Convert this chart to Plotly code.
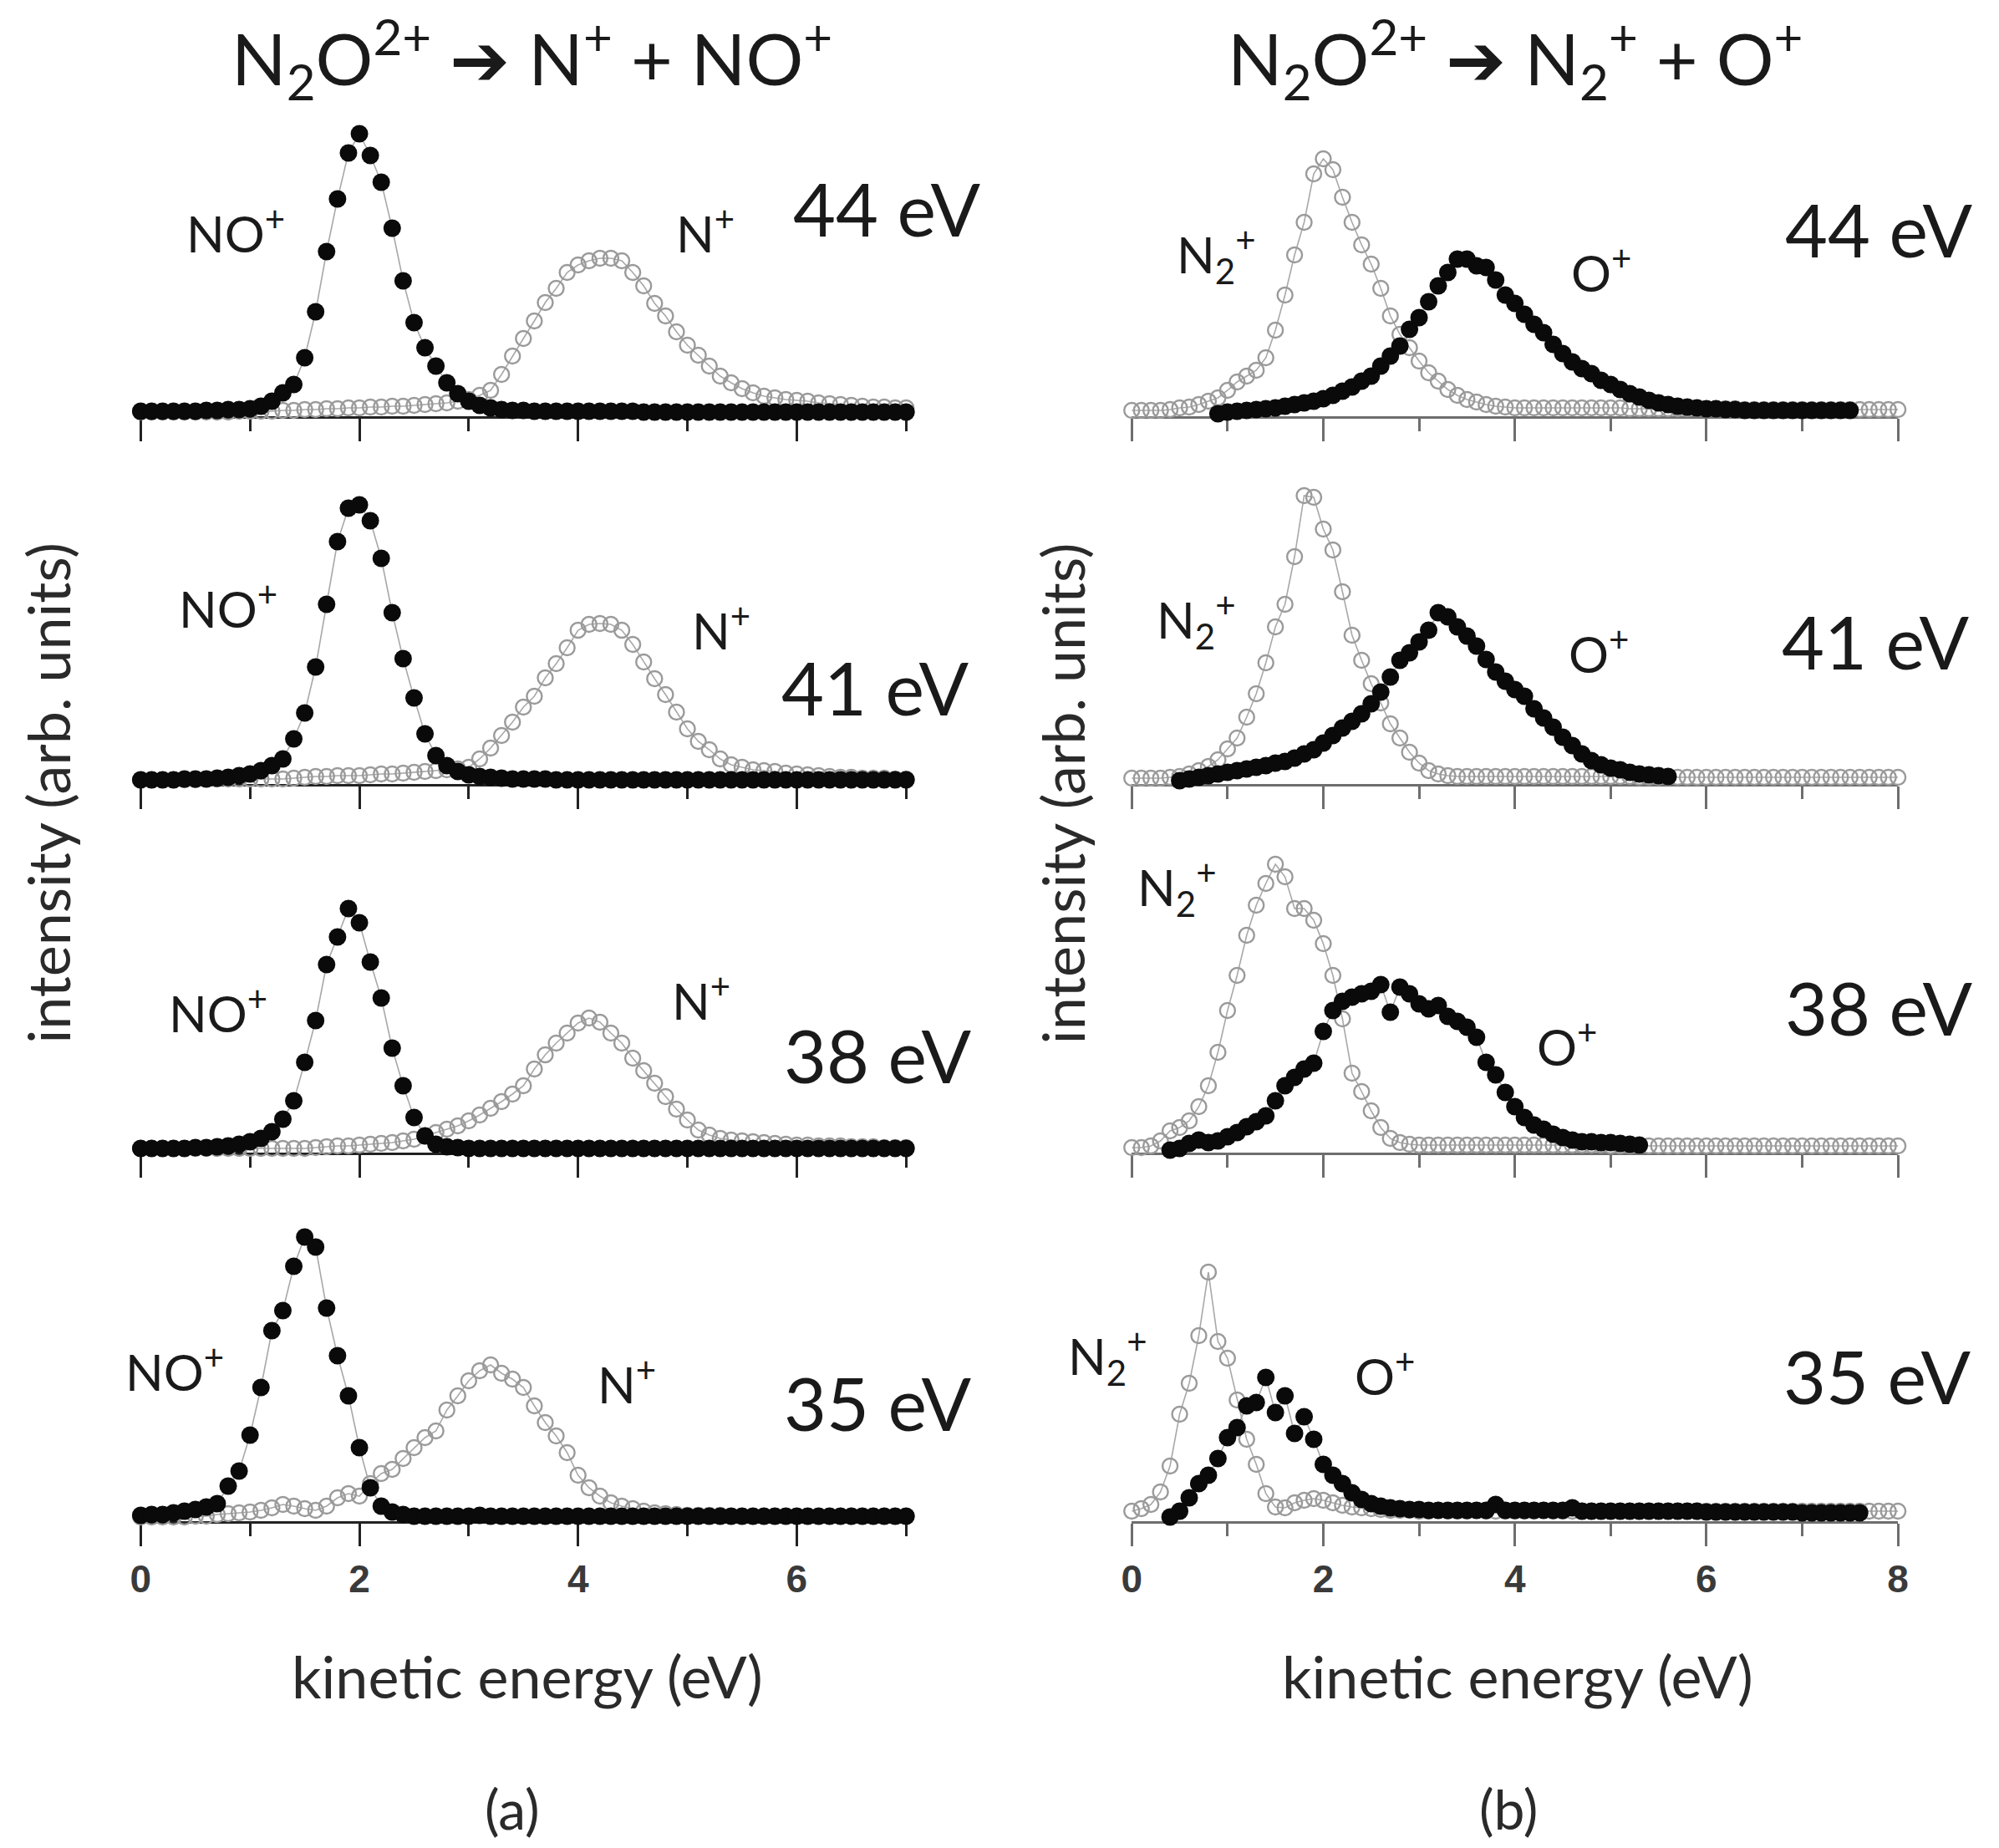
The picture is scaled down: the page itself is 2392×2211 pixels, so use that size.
import plotly.graph_objects as go

# Data (intensities in arb. units)
E_LEFT = [0.0, 0.1, 0.2, 0.3, 0.4, 0.5, 0.6, 0.7, 0.8, 0.9,
          1.0, 1.1, 1.2, 1.3, 1.4, 1.5, 1.6, 1.7, 1.8, 1.9,
          2.0, 2.1, 2.2, 2.3, 2.4, 2.5, 2.6, 2.7, 2.8, 2.9,
          3.0, 3.1, 3.2, 3.3, 3.4, 3.5, 3.6, 3.7, 3.8, 3.9,
          4.0, 4.1, 4.2, 4.3, 4.4, 4.5, 4.6, 4.7, 4.8, 4.9,
          5.0, 5.1, 5.2, 5.3, 5.4, 5.5, 5.6, 5.7, 5.8, 5.9,
          6.0, 6.1, 6.2, 6.3, 6.4, 6.5, 6.6, 6.7, 6.8, 6.9, 7.0]

E_RIGHT = E_LEFT + [7.1, 7.2, 7.3, 7.4, 7.5, 7.6, 7.7, 7.8, 7.9, 8.0]

# (a) N2O2+ -> N+ + NO+
NO_44 = [6, 6, 6, 6, 6, 6, 7, 7, 8, 8,
         9, 12, 18, 28, 38, 70, 125, 197, 260, 315,
         338, 312, 280, 225, 162, 112, 82, 60, 40, 27,
         18, 13, 10, 8, 7, 7, 6, 6, 6, 6,
         6, 6, 6, 6, 6, 6, 5, 5, 5, 5,
         5, 5, 5, 5, 5, 5, 5, 5, 5, 5,
         5, 5, 5, 5, 5, 5, 5, 5, 5, 5, 5]
N_44 = [5, 5, 5, 5, 5, 5, 5, 5, 5, 6,
        6, 6, 6, 7, 7, 8, 8, 9, 9, 10,
        10, 11, 11, 12, 12, 13, 14, 15, 16, 18,
        20, 25, 31, 50, 72, 93, 114, 136, 153, 172,
        181, 186, 189, 189, 186, 172, 156, 135, 120, 101,
        85, 73, 60, 48, 40, 33, 28, 24, 22, 20,
        19, 18, 16, 15, 14, 13, 12, 11, 11, 10, 10]

NO_41 = [5, 5, 5, 5, 6, 6, 6, 7, 8, 10,
         12, 16, 22, 30, 54, 85, 140, 215, 290, 330,
         334, 315, 270, 205, 150, 103, 60, 34, 22, 15,
         11, 9, 8, 7, 6, 6, 6, 6, 5, 5,
         5, 5, 5, 5, 5, 5, 5, 5, 5, 5,
         5, 5, 5, 5, 5, 5, 5, 5, 5, 5,
         5, 5, 5, 5, 5, 5, 5, 5, 5, 5, 5]
N_41 = [5, 5, 5, 5, 5, 5, 6, 6, 6, 6,
        6, 6, 6, 6, 7, 8, 9, 9, 10, 10,
        10, 11, 12, 12, 13, 14, 15, 16, 17, 18,
        20, 30, 43, 58, 74, 92, 105, 127, 144, 163,
        184, 191, 192, 191, 184, 167, 146, 126, 107, 86,
        66, 51, 41, 30, 23, 20, 17, 16, 15, 13,
        12, 11, 10, 9, 8, 8, 7, 7, 7, 6, 6]

NO_38 = [5, 5, 5, 5, 5, 6, 6, 7, 8, 10,
         13, 17, 25, 40, 62, 108, 158, 225, 258, 292,
         275, 228, 185, 125, 80, 42, 20, 10, 7, 6,
         5, 5, 5, 5, 5, 5, 5, 5, 5, 5,
         5, 5, 5, 5, 5, 5, 5, 5, 5, 5,
         5, 5, 5, 5, 5, 5, 5, 5, 5, 5,
         5, 5, 5, 5, 5, 5, 5, 5, 5, 5, 5]
N_38 = [5, 5, 5, 5, 5, 5, 5, 5, 5, 5,
        5, 5, 5, 5, 5, 5, 6, 7, 8, 8,
        9, 10, 11, 12, 14, 16, 20, 24, 28, 32,
        38, 45, 53, 61, 70, 80, 100, 117, 131, 143,
        155, 161, 156, 143, 131, 113, 98, 83, 67, 52,
        39, 27, 21, 17, 15, 14, 13, 12, 11, 10,
        9, 9, 8, 8, 8, 7, 7, 7, 6, 6, 6]

NO_35 = [7, 8, 8, 10, 12, 14, 17, 21, 42, 60,
         103, 160, 228, 252, 305, 340, 328, 255, 198, 150,
         88, 40, 18, 11, 8, 6, 6, 6, 6, 6,
         6, 7, 6, 6, 6, 6, 6, 6, 6, 6,
         6, 6, 6, 6, 6, 6, 6, 6, 6, 6,
         6, 6, 6, 6, 6, 6, 6, 6, 6, 6,
         6, 6, 6, 6, 6, 6, 6, 6, 6, 6, 6]
N_35 = [5, 5, 5, 5, 5, 6, 6, 8, 9, 10,
        11, 13, 16, 20, 18, 15, 13, 18, 28, 33,
        30, 45, 57, 62, 75, 88, 100, 108, 133, 150,
        168, 180, 187, 177, 170, 160, 138, 118, 102, 82,
        55, 40, 30, 22, 18, 15, 12, 10, 9, 8,
        7, 7, 7, 7, 6, 6, 6, 6, 6, 6,
        6, 6, 6, 6, 6, 6, 6, 6, 6, 6, 6]

# (b) N2O2+ -> N2+ + O+
N2_44 = [7, 7, 7, 7, 8, 10, 11, 14, 18, 22,
         31, 41, 48, 55, 70, 103, 145, 193, 232, 290,
         308, 295, 262, 232, 205, 182, 153, 120, 98, 82,
         66, 52, 42, 32, 25, 20, 17, 14, 12, 11,
         10, 10, 10, 10, 10, 10, 10, 10, 10, 10,
         10, 10, 9, 9, 9, 9, 9, 9, 9, 9,
         9, 9, 9, 9, 8, 8, 8, 8, 8, 8,
         8, 8, 8, 8, 8, 8, 8, 8, 8, 8, 8]
O_44 = [None, None, None, None, None, None, None, None, None, 3,
        5, 6, 7, 8, 9, 10, 12, 14, 16, 18,
        21, 25, 30, 35, 42, 48, 60, 72, 84, 104,
        118, 137, 156, 172, 188, 188, 180, 178, 163, 145,
        135, 122, 110, 100, 86, 75, 65, 57, 51, 43,
        38, 32, 27, 23, 19, 16, 14, 12, 11, 10,
        9, 9, 8, 8, 7, 7, 7, 7, 7, 7,
        7, 7, 7, 7, 7, 7, None, None, None, None, None]

N2_41 = [7, 7, 7, 7, 8, 9, 12, 16, 21, 29,
         42, 55, 80, 108, 145, 188, 215, 272, 345, 343,
         305, 280, 230, 178, 148, 120, 97, 72, 55, 38,
         25, 16, 12, 10, 9, 9, 9, 9, 9, 9,
         9, 9, 9, 9, 9, 9, 9, 9, 9, 9,
         9, 9, 9, 8, 8, 8, 8, 8, 8, 8,
         8, 8, 8, 8, 8, 8, 8, 8, 8, 8,
         8, 8, 8, 8, 8, 8, 8, 8, 8, 8, 8]
O_41 = [None, None, None, None, None, 4, 6, 8, 10, 12,
        14, 16, 18, 20, 22, 25, 27, 31, 36, 41,
        49, 58, 67, 75, 84, 96, 110, 128, 148, 157,
        170, 184, 205, 200, 188, 177, 165, 149, 134, 123,
        113, 105, 90, 79, 68, 56, 46, 36, 28, 23,
        19, 17, 14, 12, 11, 10, 9, None, None, None,
        None, None, None, None, None, None, None, None, None, None,
        None, None, None, None, None, None, None, None, None, None, None]

N2_38 = [6, 6, 8, 14, 26, 30, 38, 55, 80, 120,
         170, 212, 260, 296, 322, 345, 330, 292, 292, 278,
         250, 212, 160, 95, 73, 50, 30, 17, 12, 10,
         9, 9, 9, 9, 9, 9, 9, 9, 9, 9,
         9, 9, 9, 9, 9, 9, 9, 9, 9, 9,
         8, 8, 8, 8, 8, 8, 8, 8, 8, 8,
         8, 8, 8, 8, 8, 8, 8, 8, 8, 8,
         8, 8, 8, 8, 8, 8, 8, 8, 8, 8, 8]
O_38 = [None, None, None, None, 3, 5, 11, 15, 12, 14,
        19, 24, 31, 37, 44, 62, 80, 90, 100, 107,
        145, 170, 181, 186, 190, 193, 201, 168, 198, 190,
        178, 172, 176, 163, 157, 150, 138, 108, 93, 72,
        55, 42, 33, 28, 22, 18, 15, 13, 13, 12,
        12, 11, 10, 9, None, None, None, None, None, None,
        None, None, None, None, None, None, None, None, None, None,
        None, None, None, None, None, None, None, None, None, None, None]

N2_35 = [12, 15, 20, 35, 66, 128, 165, 222, 298, 215,
         195, 145, 98, 68, 33, 17, 16, 22, 25, 27,
         25, 22, 19, 17, 16, 15, 14, 13, 13, 13,
         12, 12, 13, 12, 12, 12, 13, 12, 12, 12,
         12, 12, 12, 13, 12, 12, 12, 12, 12, 12,
         12, 12, 12, 12, 12, 12, 12, 12, 12, 12,
         12, 12, 12, 12, 12, 12, 12, 12, 12, 12,
         12, 12, 12, 12, 12, 12, 12, 12, 12, 12, 12]
O_35 = [None, None, None, None, 5, 12, 28, 45, 55, 75,
        100, 112, 138, 142, 172, 130, 150, 105, 125, 98,
        68, 55, 45, 34, 26, 21, 18, 16, 15, 14,
        14, 13, 13, 13, 13, 13, 13, 13, 20, 13,
        13, 13, 13, 13, 13, 13, 16, 12, 12, 12,
        12, 12, 12, 12, 12, 12, 12, 12, 12, 12,
        11, 11, 11, 11, 11, 11, 11, 11, 11, 11,
        10, 10, 10, 10, 10, 10, 10, None, None, None, None]

ENERGIES = ["44 eV", "41 eV", "38 eV", "35 eV"]
LEFT_SETS = [(NO_44, N_44), (NO_41, N_41), (NO_38, N_38), (NO_35, N_35)]
RIGHT_SETS = [(O_44, N2_44), (O_41, N2_41), (O_38, N2_38), (O_35, N2_35)]

# page geometry (body has an 8px margin)
W, H, OFF = 2376, 2195, 8


def px(x):
    return (x - OFF) / W


def py(y):
    return 1 - (y - OFF) / H


BASELINES = [498, 938, 1379, 1820]
PANEL_H = 420
LEFT_X = (157, 1083)
RIGHT_X = (1356, 2283)

FONT = "Lato"
TXT = "#1a1a1a"
GRAY = "#9a9a9a"

fig = go.Figure()
layout = {}

for r in range(4):
    for c in range(2):
        k = r * 2 + c + 1
        xname = "xaxis" if k == 1 else "xaxis%d" % k
        yname = "yaxis" if k == 1 else "yaxis%d" % k
        xd = LEFT_X if c == 0 else RIGHT_X
        xmax = 7 if c == 0 else 8
        axcol = "#222222" if c == 0 else "#6e6e6e"
        layout[xname] = dict(
            domain=[px(xd[0]), px(xd[1])], range=[0, xmax], anchor="y%d" % k,
            showline=True, linecolor=axcol, linewidth=2.5,
            ticks="outside", ticklen=27, tickwidth=2.5, tickcolor=axcol,
            tick0=0, dtick=2, showgrid=False, zeroline=False,
            minor=dict(dtick=1, ticks="outside", ticklen=15, tickwidth=2.5,
                       tickcolor=axcol, showgrid=False),
            showticklabels=(r == 3),
            tickfont=dict(family="Liberation Sans", size=46, color="#3a3a3a",
                          weight="bold"),
            layer="below traces", fixedrange=True,
        )
        b = BASELINES[r]
        layout[yname] = dict(
            domain=[py(b), py(b - PANEL_H)], range=[0, PANEL_H],
            anchor="x%d" % k, visible=False, fixedrange=True,
        )

        if c == 0:
            black, grey = LEFT_SETS[r]
            ex = E_LEFT
        else:
            black, grey = RIGHT_SETS[r]
            ex = E_RIGHT

        # open circles
        fig.add_trace(go.Scatter(
            x=ex, y=grey, mode="lines+markers", xaxis="x%d" % k, yaxis="y%d" % k,
            line=dict(color="#a8a8a8", width=1.6),
            marker=dict(symbol="circle-open", size=18, color=GRAY,
                        line=dict(width=2.4, color=GRAY)),
            cliponaxis=False, showlegend=False, hoverinfo="skip",
        ))
        # filled dots
        fig.add_trace(go.Scatter(
            x=ex, y=black, mode="lines+markers", xaxis="x%d" % k, yaxis="y%d" % k,
            line=dict(color="#a8a8a8", width=1.6),
            marker=dict(symbol="circle", size=21, color="#0a0a0a"),
            cliponaxis=False, showlegend=False, hoverinfo="skip",
        ))

annotations = []


def label(text, x, y, size, angle=0, color=TXT):
    annotations.append(dict(
        text=text, x=px(x), y=py(y), xref="paper", yref="paper",
        xanchor="center", yanchor="middle", showarrow=False, textangle=angle,
        font=dict(family=FONT, size=size, color=color),
    ))


# panel titles
label("N<sub>2</sub>O<sup>2+</sup> \u2794 N<sup>+</sup> + NO<sup>+</sup>", 630, 70, 86)
label("N<sub>2</sub>O<sup>2+</sup> \u2794 N<sub>2</sub><sup>+</sup> + O<sup>+</sup>", 1820, 70, 86)

# electron energies
left_pos = [(1060, 249), (1045, 822), (1048, 1262), (1048, 1678)]
right_pos = [(2260, 274), (2256, 767), (2260, 1205), (2258, 1646)]
for i, lab in enumerate(ENERGIES):
    label(lab, left_pos[i][0], left_pos[i][1], 88)
    label(lab, right_pos[i][0], right_pos[i][1], 88)

# fragment ion labels
no_pos = [(272, 275), (263, 725), (251, 1208), (198, 1637)]
n_pos = [(840, 275), (859, 751), (835, 1193), (745, 1652)]
n2_pos = [(1458, 305), (1434, 742), (1411, 1062), (1327, 1623)]
o_pos = [(1924, 323), (1921, 778), (1883, 1248), (1662, 1642)]
for i in range(4):
    label("NO<sup>+</sup>", no_pos[i][0], no_pos[i][1], 60)
    label("N<sup>+</sup>", n_pos[i][0], n_pos[i][1], 60)
    label("N<sub>2</sub><sup>+</sup>", n2_pos[i][0], n2_pos[i][1], 60)
    label("O<sup>+</sup>", o_pos[i][0], o_pos[i][1], 60)

# axis titles
label("intensity (arb. units)", 44, 949, 70, angle=-90, color="#2a2a2a")
label("intensity (arb. units)", 1272, 949, 70, angle=-90, color="#2a2a2a")
label("kinetic energy (eV)", 625, 2005, 70, color="#2a2a2a")
label("kinetic energy (eV)", 1823, 2005, 70, color="#2a2a2a")
label("(a)", 607, 2163, 66, color="#2a2a2a")
label("(b)", 1812, 2163, 66, color="#2a2a2a")

fig.update_layout(
    width=W, height=H, autosize=False,
    margin=dict(l=0, r=0, t=0, b=0),
    plot_bgcolor="white", paper_bgcolor="white",
    showlegend=False, annotations=annotations,
    **layout,
)

fig.write_html("out.html")
